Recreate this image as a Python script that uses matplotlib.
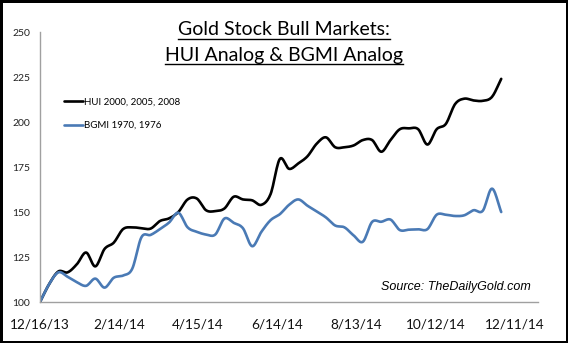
import numpy as np
import pandas as pd
import matplotlib
matplotlib.use("Agg")
import matplotlib.pyplot as plt
import matplotlib.dates as mdates
from matplotlib.lines import Line2D

plt.rcParams['font.family'] = ['Lato', 'DejaVu Sans']

# weekly closes, rebased to 100 at the start
dates = pd.date_range("2013-12-16", periods=51, freq="7D")
hui = [100, 110, 117, 116.5, 121, 127.5, 119.8, 129.5, 133, 140.5,
       141.5, 141, 140.8, 145, 146.5, 150, 157, 157.5, 151, 150.5,
       152, 158.5, 157, 156.5, 154, 160, 179.5, 174, 177, 181,
       188, 191.5, 186, 186, 187, 190, 190, 183.5, 190, 196,
       196.5, 196, 187.5, 196, 199, 210, 213, 212, 211.8, 214, 224]
bgmi = [100, 110, 116.5, 114, 111, 109, 113, 108, 113.5, 114.7,
        118.5, 136, 137.3, 140.5, 144.2, 149.6, 141.5, 139, 137.5, 137.5,
        146.4, 144, 141, 131, 139, 145.5, 148.8, 154, 157, 153.5,
        150.3, 147, 142.5, 141.5, 137, 133.5, 144.5, 144.6, 145.8, 140,
        140.2, 140.4, 140.5, 148.5, 148.5, 147.8, 148.2, 151, 150.7, 163, 150]
labels = ["HUI 2000, 2005, 2008", "BGMI 1970, 1976"]
colors = ["black", "#4a7ab5"]
tick_dates = pd.date_range("2013-12-16", periods=7, freq="60D")


def smooth(x, y, n=12):
    # Catmull-Rom curve through the points, like a spreadsheet "smoothed line"
    x = np.asarray(x, float)
    y = np.asarray(y, float)
    px = np.concatenate([[2 * x[0] - x[1]], x, [2 * x[-1] - x[-2]]])
    py = np.concatenate([[2 * y[0] - y[1]], y, [2 * y[-1] - y[-2]]])
    t = np.linspace(0, 1, n, endpoint=False)
    xs, ys = [], []
    for i in range(1, len(px) - 2):
        for p, out in ((px, xs), (py, ys)):
            p0, p1, p2, p3 = p[i - 1], p[i], p[i + 1], p[i + 2]
            out.append(0.5 * (2 * p1 + (-p0 + p2) * t
                              + (2 * p0 - 5 * p1 + 4 * p2 - p3) * t ** 2
                              + (-p0 + 3 * p1 - 3 * p2 + p3) * t ** 3))
    xs.append([x[-1]])
    ys.append([y[-1]])
    return np.concatenate(xs), np.concatenate(ys)


fig = plt.figure(figsize=(5.68, 3.43), dpi=100)
fig.patch.set_edgecolor("black")
fig.patch.set_linewidth(2.5)
ax = fig.add_axes([0.0704, 0.1195, 0.877, 0.787])

xnum = mdates.date2num(dates)
for series, lab, c in zip([hui, bgmi], labels, colors):
    sx, sy = smooth(xnum, series)
    ax.plot(sx, sy, color=c, lw=1.9, label=lab, solid_capstyle="round")

ax.set_ylim(100, 250)
ax.set_yticks([100, 125, 150, 175, 200, 225, 250])
ax.set_xlim(mdates.date2num(pd.Timestamp("2013-12-16")),
            mdates.date2num(pd.Timestamp("2013-12-16")) + 378)
ax.set_xticks(mdates.date2num(tick_dates))
ax.set_xticklabels([f"{d.month}/{d.day}/{d.strftime('%y')}" for d in tick_dates])

for s in ["top", "right"]:
    ax.spines[s].set_visible(False)
for s in ["left", "bottom"]:
    ax.spines[s].set_color("#a0a0a0")
    ax.spines[s].set_linewidth(1.0)
ax.tick_params(axis="both", length=0)
ax.tick_params(axis="y", labelsize=7.5, pad=7, labelcolor="#222222")
ax.tick_params(axis="x", labelsize=9.8, pad=12, labelcolor="#111111")

ax.legend(loc="upper left", bbox_to_anchor=(0.03, 0.79), frameon=False,
          fontsize=7, handlelength=2.0, handletextpad=0.1, labelspacing=1.5)

ax.text(0.986, 0.057, "Source: TheDailyGold.com", transform=ax.transAxes,
        ha="right", va="center", fontsize=9, style="italic",
        family="Liberation Sans")

# underlined two-line title
t1 = fig.text(0.5, 0.897, "Gold Stock Bull Markets:", ha="center", va="baseline",
              fontsize=14)
t2 = fig.text(0.5, 0.822, "HUI Analog & BGMI Analog", ha="center", va="baseline",
              fontsize=14)
fig.canvas.draw()
r = fig.canvas.get_renderer()
for t in (t1, t2):
    bb = t.get_window_extent(r).transformed(fig.transFigure.inverted())
    _, yb = t.get_position()
    fig.add_artist(Line2D([bb.x0, bb.x1], [yb - 0.01, yb - 0.01],
                          transform=fig.transFigure, color="black", lw=1.0))

fig.savefig("out.png", dpi=100)
